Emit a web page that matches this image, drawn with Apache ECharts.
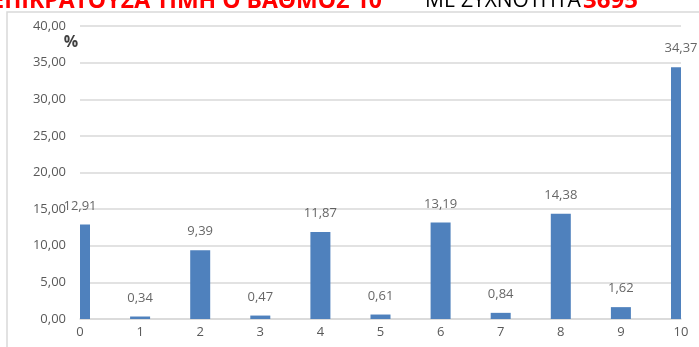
<!DOCTYPE html>
<html>
<head>
<meta charset="utf-8">
<script src="https://cdn.jsdelivr.net/npm/echarts@6/dist/echarts.min.js"></script>
<style>
html,body{margin:0;padding:0;background:#fff;}
#c{width:699px;height:347px;}
</style>
</head>
<body>
<div id="c"></div>
<script>
var categories = [0, 1, 2, 3, 4, 5, 6, 7, 8, 9, 10];
var percentages = [12.91, 0.34, 9.39, 0.47, 11.87, 0.61, 13.19, 0.84, 14.38, 1.62, 34.37];
var yTicks = [0, 5, 10, 15, 20, 25, 30, 35, 40];
var titleMain = 'ΕΠΙΚΡΑΤΟΥΣΑ ΤΙΜΗ Ο ΒΑΘΜΟΣ 10';
var titleSub = 'ΜΕ ΣΥΧΝΟΤΗΤΑ';
var titleNum = '3695';
var unitLabel = '%';

var fmt = function (v) { return Number(v).toFixed(2).replace('.', ','); };
var seriesData = categories.map(function (c, i) { return [c, percentages[i]]; });
var BAR_W = 20;

var chart = echarts.init(document.getElementById('c'), null, {renderer: 'canvas'});
chart.setOption({
  animation: false,
  textStyle: {fontFamily: 'Open Sans'},
  grid: {left: 80, right: 18, top: 26, bottom: 28, containLabel: false},
  xAxis: {
    type: 'value', min: categories[0], max: categories[categories.length - 1], interval: 1,
    axisLine: {show: true, lineStyle: {color: '#d9d9d9', width: 1.5}},
    axisTick: {show: false},
    splitLine: {show: false},
    axisLabel: {color: '#595959', fontSize: 13, margin: 7, fontFamily: 'Open Sans'}
  },
  yAxis: {
    type: 'value', min: yTicks[0], max: yTicks[yTicks.length - 1], interval: yTicks[1] - yTicks[0],
    axisLine: {show: false}, axisTick: {show: false},
    splitLine: {lineStyle: {color: '#d9d9d9', width: 1.5}},
    axisLabel: {color: '#595959', fontSize: 13, margin: 14, formatter: fmt, fontFamily: 'Open Sans'}
  },
  series: [{
    type: 'custom',
    data: seriesData,
    encode: {x: 0, y: 1},
    renderItem: function (params, api) {
      var x = api.value(0), y = api.value(1);
      var top = api.coord([x, y]);
      var base = api.coord([x, 0]);
      var cs = params.coordSys;
      var shape = echarts.graphic.clipRectByRect(
        {x: top[0] - BAR_W / 2, y: top[1], width: BAR_W, height: base[1] - top[1]},
        {x: cs.x, y: cs.y, width: cs.width, height: cs.height}
      );
      if (!shape) return null;
      return {type: 'rect', shape: shape, style: {fill: '#4f81bd'}};
    }
  }, {
    type: 'scatter',
    data: seriesData,
    symbolSize: 0,
    silent: true,
    label: {
      show: true, position: 'top', distance: 12,
      color: '#404040', fontSize: 13, fontFamily: 'Open Sans',
      formatter: function (p) { return fmt(p.value[1]); }
    }
  }],
  graphic: [
    {type: 'rect', shape: {x: 7, y: 12, width: 800, height: 400}, style: {fill: 'none', stroke: '#d9d9d9', lineWidth: 1.5}, silent: true, z: -10},
    {type: 'text', x: 382, y: 1, style: {text: titleMain, fill: '#ff0000', font: 'bold 23px "Open Sans"', textAlign: 'right', textVerticalAlign: 'middle'}},
    {type: 'text', x: 425, y: 1, style: {text: titleSub, fill: '#000000', font: '21px "Open Sans"', textAlign: 'left', textVerticalAlign: 'middle'}},
    {type: 'text', x: 638, y: 1, style: {text: titleNum, fill: '#ff0000', font: 'bold 24px "Open Sans"', textAlign: 'right', textVerticalAlign: 'middle'}},
    {type: 'text', x: 71, y: 42, style: {text: unitLabel, fill: '#404040', font: 'bold 16px "Open Sans"', textAlign: 'center', textVerticalAlign: 'middle'}}
  ]
});
</script>
</body>
</html>
